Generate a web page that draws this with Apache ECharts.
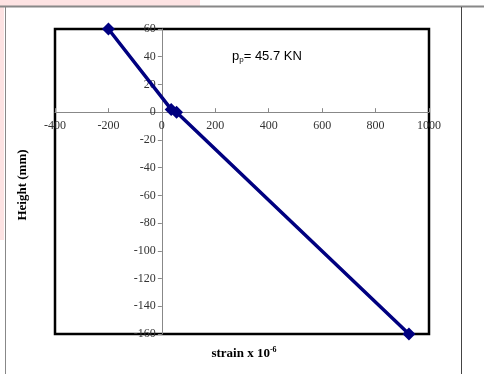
<!DOCTYPE html>
<html>
<head>
<meta charset="utf-8">
<script src="https://cdn.jsdelivr.net/npm/echarts@6/dist/echarts.min.js"></script>
<style>html,body{margin:0;padding:0;background:#fff}#c{width:484px;height:374px}</style>
</head>
<body>
<div id="c"></div>
<script>
// Data
const strainValues = [-200, 35, 55, 925];
const heightValues = [60, 2, 0, -160];
const xTicks = [-400, -200, 0, 200, 400, 600, 800, 1000];
const yTicks = [60, 40, 20, 0, -20, -40, -60, -80, -100, -120, -140, -160];
const xTitle = 'strain x 10';
const yTitle = 'Height (mm)';

const points = strainValues.map((x, i) => [x, heightValues[i]]);
const chart = echarts.init(document.getElementById('c'), null, {renderer: 'canvas'});
const serif = '"Liberation Serif", "Times New Roman", serif';
const G = {left: 55, top: 29, right: 55, bottom: 40};
chart.setOption({
  backgroundColor: '#fff',
  animation: false,
  grid: {left: G.left, top: G.top, right: G.right, bottom: G.bottom, show: true, borderColor: '#000', borderWidth: 2.5, backgroundColor: 'transparent'},
  xAxis: {
    type: 'value', min: xTicks[0], max: xTicks[xTicks.length - 1], interval: 200,
    axisLine: {show: true, onZero: false, lineStyle: {color: '#888', width: 1}},
    axisTick: {show: true, inside: true, length: 4, lineStyle: {color: '#888'}},
    axisLabel: {color: '#333', fontFamily: serif, fontSize: 12, margin: 8, formatter: v => String(v)},
    splitLine: {show: false}
  },
  yAxis: {
    type: 'value', min: yTicks[yTicks.length - 1], max: yTicks[0], interval: 20,
    axisLine: {show: true, onZero: false, lineStyle: {color: '#888', width: 1}},
    axisTick: {show: true, length: 4, lineStyle: {color: '#888'}},
    axisLabel: {color: '#333', fontFamily: serif, fontSize: 12, margin: 6, formatter: v => String(v)},
    splitLine: {show: false}
  },
  series: [{
    type: 'line', data: points, symbol: 'diamond', symbolSize: 13,
    lineStyle: {color: '#000080', width: 3.5},
    itemStyle: {color: '#000080'}, z: 3
  }],
  graphic: [
    {type: 'rect', shape: {x: 0, y: 0, width: 200, height: 6}, style: {fill: '#fde3e3'}, z: -1},
    {type: 'rect', shape: {x: 0, y: 0, width: 4, height: 240}, style: {fill: '#fde3e3'}, z: -1},
    {type: 'line', shape: {x1: 0, y1: 6.5, x2: 484, y2: 6.5}, style: {stroke: '#888', lineWidth: 2}},
    {type: 'line', shape: {x1: 5.5, y1: 7, x2: 5.5, y2: 374}, style: {stroke: '#888', lineWidth: 1}},
    {type: 'line', shape: {x1: 461.5, y1: 7, x2: 461.5, y2: 374}, style: {stroke: '#444', lineWidth: 1}},
    {type: 'text', left: 232, top: 50, style: {
      text: '{a|p}{s|p}{a|= 45.7 KN}',
      rich: {a: {fontFamily: '"Liberation Sans", Arial, sans-serif', fontSize: 13, fill: '#000'},
             s: {fontFamily: '"Liberation Sans", Arial, sans-serif', fontSize: 8, fill: '#000', padding: [6, 0, 0, 0]}}
    }},
    {type: 'text', x: 244, y: 354, style: {
      text: '{t|' + xTitle + '}{e|-6}',
      rich: {t: {fontFamily: serif, fontWeight: 'bold', fontSize: 13, fill: '#000'},
             e: {fontFamily: serif, fontWeight: 'bold', fontSize: 8, fill: '#000', padding: [0, 0, 8, 0]}},
      align: 'center', verticalAlign: 'middle'
    }},
    {type: 'text', x: 23, y: 185, rotation: Math.PI / 2, style: {
      text: yTitle, fontFamily: serif, fontWeight: 'bold', fontSize: 13, fill: '#000',
      align: 'center', verticalAlign: 'middle'
    }}
  ]
});
// Move each axis to cross the other at zero, using the library's own scales
const zeroY = chart.convertToPixel({yAxisIndex: 0}, 0);
const zeroX = chart.convertToPixel({xAxisIndex: 0}, 0);
const H = chart.getHeight();
chart.setOption({
  xAxis: {offset: -((H - G.bottom) - zeroY)},
  yAxis: {offset: -(zeroX - G.left)}
});
</script>
</body>
</html>
